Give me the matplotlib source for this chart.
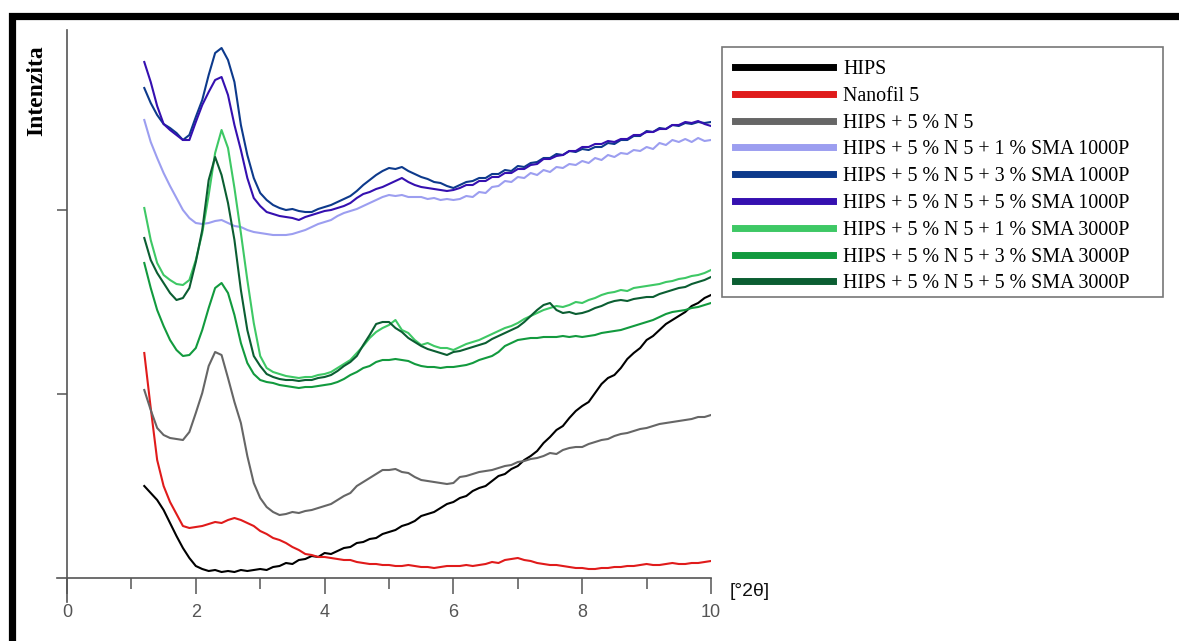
import matplotlib.pyplot as plt
import numpy as np
from matplotlib.patches import Rectangle
from matplotlib.lines import Line2D

# diffraction angle [°2θ], sampled every 0.1 from 1.2 to 10
two_theta = np.linspace(1.2, 10.0, 89)

# intensities (arbitrary units)
hips = [92, 85, 78, 68, 55, 42, 30, 20, 12, 9, 7, 8, 6, 7, 6, 8, 7, 8, 9,
        8, 11, 12, 15, 14, 18, 19, 22, 21, 25, 24, 27, 30, 31, 35, 36, 39, 40, 44, 46,
        48, 52, 54, 57, 62, 64, 66, 70, 74, 76,
        80, 82, 87, 90, 92, 97, 102, 104, 109, 112, 118, 122, 127, 135, 141, 148, 152, 160, 167, 172,
        176, 185, 194, 200, 203, 210, 219, 225, 230, 238, 242, 248, 254, 258, 262, 266, 272, 275, 280, 283]
nanofil5 = [225, 170, 118, 92, 76, 64, 52, 50, 51, 52, 54, 56, 55, 58, 60, 58, 55, 52, 47,
            44, 40, 38, 35, 31, 28, 24, 23, 21, 21, 20, 19, 18, 18, 16, 15, 14, 14, 13, 13,
            12, 12, 13, 12, 11, 11, 10, 11, 12, 12,
            12, 13, 12, 13, 14, 16, 15, 18, 19, 20, 18, 17, 15, 14, 13, 13, 12, 11, 10, 10,
            9, 9, 10, 10, 11, 11, 12, 12, 13, 14, 13, 13, 14, 15, 14, 14, 15, 15, 16, 17]
hips_n5 = [188, 168, 150, 143, 140, 139, 138, 146, 165, 185, 212, 226, 223, 200, 176, 155, 122, 95, 80,
           71, 66, 63, 64, 66, 65, 67, 68, 70, 72, 74, 78, 82, 85, 92, 96, 100, 104, 108, 108,
           109, 106, 105, 101, 98, 97, 96, 95, 94, 95,
           101, 102, 104, 106, 107, 108, 110, 112, 113, 116, 117, 119, 120, 122, 125, 124, 128, 130, 131, 131,
           134, 136, 138, 139, 142, 144, 145, 147, 149, 150, 152, 154, 155, 156, 157, 158, 159, 161, 161, 163]
sma1000_1 = [458, 436, 420, 405, 392, 380, 368, 360, 355, 354, 355, 357, 358, 355, 352, 351, 348, 346, 345,
             344, 343, 343, 343, 344, 346, 348, 351, 354, 356, 358, 362, 365, 367, 369, 372, 375, 378, 381, 383,
             382, 383, 381, 381, 381, 379, 380, 378, 379, 378,
             379, 382, 381, 386, 385, 391, 392, 397, 396, 401, 400, 405, 403, 408, 406, 411, 410, 414, 413, 417,
             415, 420, 418, 423, 421, 425, 424, 428, 427, 431, 429, 435, 433, 438, 436, 439, 436, 440, 437, 438]
sma1000_3 = [490, 475, 463, 454, 450, 445, 438, 443, 461, 478, 503, 525, 530, 518, 496, 453, 423, 400, 385,
             378, 373, 370, 368, 369, 367, 366, 366, 369, 371, 373, 376, 379, 382, 387, 393, 398, 403, 407, 410,
             409, 411, 407, 404, 401, 399, 396, 395, 392, 390,
             393, 396, 397, 400, 400, 404, 404, 408, 407, 412, 411, 415, 416, 420, 420, 424, 423, 427, 426, 429,
             428, 431, 431, 435, 434, 438, 438, 442, 442, 447, 446, 450, 449, 453, 452, 455, 454, 456, 455, 456]
sma1000_5 = [516, 496, 472, 454, 448, 443, 438, 438, 456, 473, 486, 498, 501, 483, 453, 428, 400, 380, 372,
             366, 364, 362, 361, 360, 358, 361, 363, 365, 367, 368, 370, 372, 375, 380, 384, 386, 389, 391, 394,
             397, 400, 396, 393, 391, 390, 389, 388, 387, 388,
             390, 393, 393, 397, 397, 401, 401, 405, 405, 409, 409, 413, 414, 419, 419, 422, 423, 427, 427, 431,
             431, 434, 434, 437, 436, 439, 439, 443, 443, 446, 446, 449, 449, 453, 453, 456, 455, 457, 454, 452]
sma3000_1 = [370, 338, 315, 303, 298, 294, 293, 298, 318, 345, 383, 425, 448, 430, 390, 345, 298, 255, 222,
             210, 206, 204, 202, 201, 200, 201, 201, 203, 204, 206, 210, 214, 218, 225, 232, 240, 246, 250, 253,
             258, 248, 245, 238, 233, 235, 232, 230, 230, 228,
             231, 234, 236, 238, 241, 244, 247, 250, 252, 255, 259, 262, 265, 268, 270, 272, 271, 273, 276, 275,
             278, 280, 283, 285, 286, 288, 287, 290, 291, 292, 293, 294, 296, 297, 299, 300, 302, 303, 305, 308]
sma3000_3 = [315, 290, 268, 252, 238, 228, 222, 223, 230, 248, 270, 290, 295, 285, 263, 235, 215, 204, 198,
             196, 195, 193, 192, 191, 190, 191, 191, 192, 193, 194, 196, 199, 203, 206, 210, 212, 216, 218, 218,
             219, 218, 217, 214, 212, 211, 211, 210, 211, 211,
             212, 213, 215, 218, 220, 222, 226, 232, 235, 238, 239, 240, 240, 241, 241, 241, 242, 241, 242, 241,
             242, 243, 245, 246, 247, 248, 250, 252, 254, 256, 258, 261, 264, 266, 267, 268, 270, 271, 273, 275]
sma3000_5 = [340, 318, 305, 295, 285, 278, 280, 290, 316, 348, 398, 421, 403, 375, 338, 288, 248, 222, 212,
             204, 201, 199, 198, 198, 197, 198, 198, 200, 201, 203, 207, 212, 216, 222, 233, 243, 254, 256, 256,
             250, 246, 240, 236, 232, 229, 227, 225, 223, 226,
             227, 229, 231, 233, 235, 239, 242, 245, 248, 251, 256, 262, 268, 273, 275, 268, 265, 266, 264, 265,
             267, 270, 272, 275, 277, 278, 277, 279, 280, 281, 281, 284, 286, 288, 290, 291, 294, 296, 298, 301]

labels = ["HIPS", "Nanofil 5", "HIPS + 5 % N 5",
          "HIPS + 5 % N 5 + 1 % SMA 1000P", "HIPS + 5 % N 5 + 3 % SMA 1000P",
          "HIPS + 5 % N 5 + 5 % SMA 1000P", "HIPS + 5 % N 5 + 1 % SMA 3000P",
          "HIPS + 5 % N 5 + 3 % SMA 3000P", "HIPS + 5 % N 5 + 5 % SMA 3000P"]
series = [hips, nanofil5, hips_n5, sma1000_1, sma1000_3, sma1000_5,
          sma3000_1, sma3000_3, sma3000_5]
colors = ["#000000", "#e01b1b", "#666666", "#9c9ef0", "#0d3a8c",
          "#3510b0", "#3ec865", "#129a3e", "#0b5e32"]

W, H = 1179, 641
fig = plt.figure(figsize=(W / 100, H / 100), dpi=100)
ax = fig.add_axes([56.7 / W, 39 / H, (711 - 56.7) / W, 572 / H])

for vals, c, lab in zip(series, colors, labels):
    ax.plot(two_theta, vals, color=c, lw=1.5, label=lab)

ax.set_xlim(-0.16, 10)
ax.set_ylim(-24, 548)
ax.spines["top"].set_visible(False)
ax.spines["right"].set_visible(False)
ax.spines["left"].set_position(("data", 0))
ax.spines["bottom"].set_position(("data", 0))
for s in ("left", "bottom"):
    ax.spines[s].set_color("#555555")
    ax.spines[s].set_linewidth(1.2)

ax.set_xticks([0, 2, 4, 6, 8, 10])
ax.set_xticks([1, 3, 5, 7, 9], minor=True)
ax.set_yticks([184, 368])
ax.set_yticklabels([])
ax.tick_params(axis="x", which="major", direction="out", length=11.5, width=1.1,
               color="#555555", labelcolor="#555555", labelsize=13, pad=7)
ax.tick_params(axis="x", which="minor", direction="out", length=8, width=1.1, color="#555555")
ax.tick_params(axis="y", which="major", direction="out", length=7, width=1.1, color="#555555")
for t in ax.get_xticklabels():
    t.set_fontfamily("Liberation Sans")

fig.text(730 / W, 1 - 592 / H, "[°2θ]", ha="left", va="center",
         fontsize=14, family="Liberation Sans", color="#111111")
fig.text(37 / W, 1 - 91 / H, "Intenzita", rotation=90, ha="center", va="center",
         fontsize=17, family="Liberation Serif", fontweight="bold")

handles = [Line2D([], [], color=c, lw=5) for c in colors]
leg = ax.legend(handles, labels, loc="upper left",
                bbox_to_anchor=(722 / W, 1 - 47 / H), bbox_transform=fig.transFigure,
                prop={"family": "Liberation Serif", "size": 14.4},
                handlelength=4.9, handletextpad=0.5, labelspacing=0.39,
                borderpad=0.65, borderaxespad=0, frameon=False)

# legend box (wider on the right than the entries need, as in the original)
box = Rectangle((722 / W, 1 - 297 / H), (1163 - 722) / W, (297 - 47) / H,
                transform=fig.transFigure, fill=False, lw=1.2, edgecolor="#777777")
fig.add_artist(box)

# thick black frame around the whole picture (cut at right and bottom)
frame = Rectangle((12 / W, -0.2), 1.5, 1.2 - 16 / H, transform=fig.transFigure,
                  fill=False, lw=5.2, edgecolor="black", clip_on=False)
fig.add_artist(frame)

fig.savefig("out.png", dpi=100)
